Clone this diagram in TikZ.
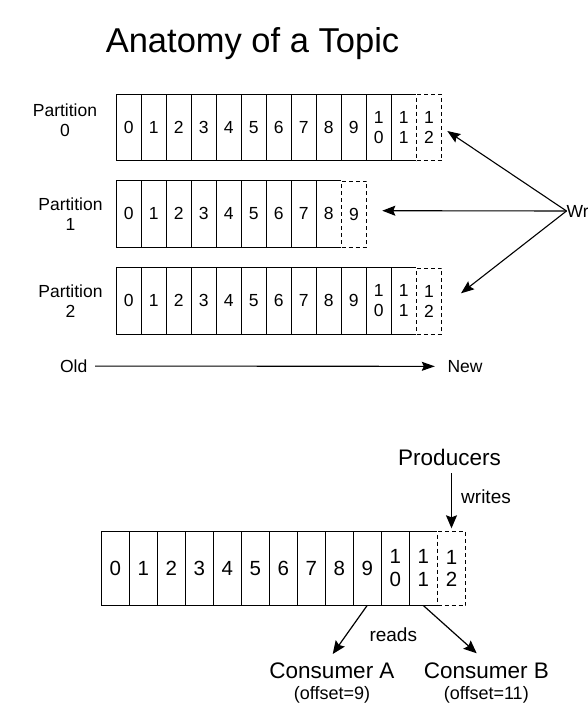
\documentclass[tikz,border=0pt]{standalone}
\usepackage{fontspec}
\setmainfont{Liberation Sans}
\usetikzlibrary{arrows.meta}
\newcommand\dg[1]{\smash{#1}\vphantom{0}}
\newcommand\celltxt[1]{\ifnum#1>9 \dg{1}\\\dg{\the\numexpr#1-10\relax}\else\dg{#1}\fi}
\newcommand\drawlog[6]{%
  \foreach \i in {0,...,#4}{%
    \node[#5] (#1c\i) at (#2+#6*\i,#3) {\celltxt{\i}};
    \draw[edge] (#1c\i.north west) -- (#1c\i.south west);
  }
  \pgfmathtruncatemacro\nxt{#4+1}
  \draw[edge] (#1c0.north west) -- (#1c#4.north east);
  \draw[edge] (#1c0.south west) -- (#1c#4.south east);
  \node[#5,newcell] (#1c\nxt) at (#2+#6*\nxt,#3) {\celltxt{\nxt}};
}
\begin{document}
\begin{tikzpicture}[x=1pt,y=-1pt,
  txt/.style={inner sep=0pt, font=\fontsize{17.5}{20}\selectfont},
  bigtxt/.style={inner sep=0pt, font=\fontsize{22.5}{26}\selectfont},
  midtxt/.style={inner sep=0pt, font=\fontsize{19}{22}\selectfont},
  smalltxt/.style={inner sep=0pt, font=\fontsize{18}{21}\selectfont},
  cell/.style={rectangle, inner sep=0pt, minimum width=25pt, minimum height=66pt, anchor=north west, align=center, font=\fontsize{17.5}{20}\selectfont},
  bcell/.style={rectangle, inner sep=0pt, minimum width=28pt, minimum height=74pt, anchor=north west, align=center, font=\fontsize{20.5}{22.7}\selectfont},
  edge/.style={line width=1pt},
  newcell/.style={draw, line width=1pt, dash pattern=on 4pt off 3pt},
  arr/.style={line width=1.1pt, -{Stealth[length=13pt,width=10pt,inset=2pt]}},
  barr/.style={line width=1.2pt, -{Stealth[length=13pt,width=11pt,inset=2pt]}},
]
\fill[white] (0,0) rectangle (588,712);
\useasboundingbox (0,0) rectangle (588,712);

% title
\node[inner sep=0pt, anchor=base, font=\fontsize{34.5}{40}\selectfont] (title) at (252.5,52.7) {Anatomy of a Topic};

% partitions
\node[txt, align=center] (pl0) at (65,119.9) {Partition\\0};
\node[txt, align=center] (pl1) at (70.5,213.9) {Partition\\1};
\node[txt, align=center] (pl2) at (70.5,301.6) {Partition\\2};

\drawlog{pa}{116}{94}{11}{cell}{25}
\drawlog{pb}{116}{180.7}{8}{cell}{25}
\drawlog{pc}{116}{267.7}{11}{cell}{25}

% writes (top)
\node[txt, anchor=west] (wr) at (566.5,211) {Wr};
\coordinate (t0) at (447.3,131);
\coordinate (t1) at (382.3,210.7);
\coordinate (t2) at (461,293.3);
\draw[arr] (wr.west) -- (t0);
\draw[arr] (wr.west) -- (t1);
\draw[arr] (wr.west) -- (t2);

% old -> new
\node[txt, anchor=base] (old) at (73.7,372.3) {Old};
\node[txt, anchor=base] (new) at (465,372.3) {New};
\draw[line width=1.1pt, -{Stealth[length=13pt,width=9pt,inset=2pt]}, shorten <=7.7pt, shorten >=12.5pt] (old) -- (new);

% bottom log
\drawlog{b}{101}{531}{11}{bcell}{28}

\node[bigtxt, anchor=base] (prod) at (449.5,465) {Producers};
\node[midtxt, anchor=base west] (wlab) at (461,503.3) {writes};
\draw[barr, shorten <=8pt, shorten >=2.7pt] (bc12.north |- prod.south) -- (bc12.north);

\node[bigtxt, anchor=base] (ca) at (332,678.3) {Consumer A};
\node[smalltxt, anchor=base] (oa) at (332,699.5) {(offset=9)};
\node[bigtxt, anchor=base] (cb) at (486.3,678.3) {Consumer B};
\node[smalltxt, anchor=base] (ob) at (486.3,699.5) {(offset=11)};
\node[midtxt, anchor=base] (rd) at (393.3,641.7) {reads};

\coordinate (tipA) at (332.7,654);
\coordinate (tipB) at (476.7,653.3);
\draw[barr] (bc9.south) -- (tipA);
\draw[barr] (bc11.south) -- (tipB);
\end{tikzpicture}
\end{document}
